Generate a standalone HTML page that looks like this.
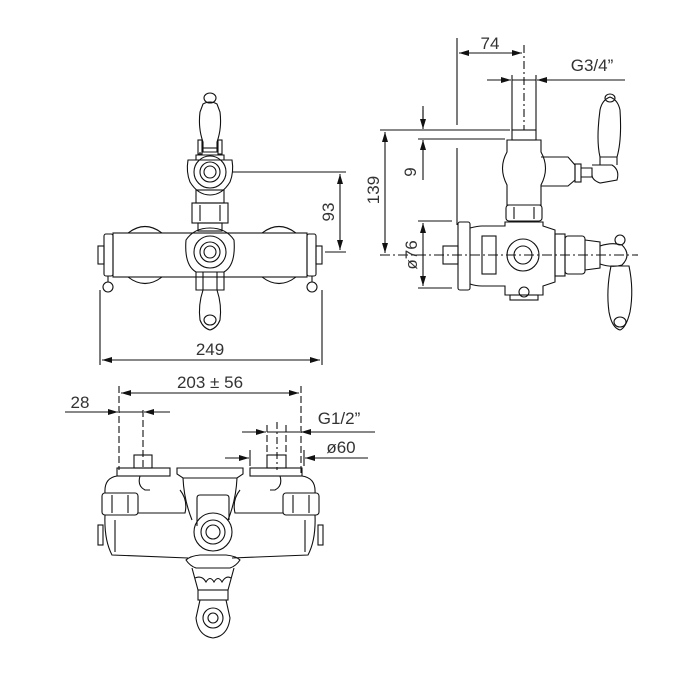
<!DOCTYPE html>
<html><head><meta charset="utf-8"><style>
html,body{margin:0;padding:0;background:#fff;width:700px;height:700px;overflow:hidden}
svg text{font-family:"Liberation Sans","DejaVu Sans",sans-serif;font-size:17px;fill:#333}
</style></head><body>
<svg width="700" height="700" viewBox="0 0 700 700" xmlns="http://www.w3.org/2000/svg">
<defs>
<marker id="a" viewBox="0 0 10 6" refX="10" refY="3" markerWidth="10" markerHeight="6" orient="auto-start-reverse" markerUnits="userSpaceOnUse"><path d="M0,0L10,3L0,6z" fill="#111"/></marker>
</defs>
<g fill="none" stroke="#111" stroke-width="1.1">
<ellipse cx="210" cy="98" rx="6" ry="5"/>
<path d="M203,104 Q210,100 217,104 L220,112 Q222,128 217,142 L217,152 L203,152 L203,142 Q198,128 200,112 Z"/>
<line x1="203" y1="148" x2="217" y2="148"/>
<rect x="198" y="140" width="4" height="14"/><rect x="218" y="140" width="4" height="14"/>
<path d="M196,160 L196,155 L224,155 L224,160"/>
<path d="M200,155 L200,152 M188,160 Q186,172 190,182 Q198,195 210,195 Q222,195 230,182 Q234,172 232,160 Z"/>
<circle cx="210" cy="172" r="16"/><circle cx="210" cy="172" r="10"/><circle cx="210" cy="172" r="6"/>
<rect x="196" y="190" width="28" height="13"/>
<rect x="192" y="203" width="36" height="20"/>
<line x1="200" y1="205" x2="200" y2="221"/><line x1="220" y1="205" x2="220" y2="221"/>
<rect x="198" y="223" width="24" height="8"/>
<path d="M128,233 Q145,220 162,233 M128,277 Q145,290 162,277 M262,233 Q279,220 296,233 M262,277 Q279,290 296,277"/>
<rect x="113" y="233" width="194" height="44"/>
<rect x="104" y="234" width="9" height="42" rx="2"/><rect x="307" y="234" width="9" height="42" rx="2"/>
<rect x="98" y="246" width="6" height="18"/><rect x="316" y="246" width="6" height="18"/>
<path d="M108,276 L108,282 M312,276 L312,282"/>
<circle cx="108" cy="287" r="5"/><circle cx="312" cy="287" r="5"/>
<path d="M186,240 Q184,265 196,272 L224,272 Q236,265 234,240 Q226,228 210,228 Q194,228 186,240 Z"/>
<circle cx="210" cy="252" r="16"/><circle cx="210" cy="252" r="10"/><circle cx="210" cy="252" r="6"/>
<path d="M196,272 L196,290 L224,290 L224,272"/>
<path d="M203,272 L217,272 L217,290 Q222,305 220,320 Q217,328 210,330 Q203,328 200,320 Q198,305 203,290 Z"/>
<ellipse cx="210" cy="320" rx="6" ry="5"/>
<path d="M232,172 L346,172 M325,252 L346,252"/>
<line x1="340" y1="174" x2="340" y2="250" marker-start="url(#a)" marker-end="url(#a)"/>
<path d="M100,290 L100,365 M322,290 L322,365"/>
<line x1="102" y1="360" x2="320" y2="360" marker-start="url(#a)" marker-end="url(#a)"/>

<path d="M457,38 L457,125 M457,148 L457,225"/>
<line x1="459" y1="53" x2="522" y2="53" marker-start="url(#a)" marker-end="url(#a)"/>
<path d="M524,45 L524,130" stroke-dasharray="8,3,2,3"/>
<path d="M512,75 L512,130 M536,75 L536,130"/>
<line x1="487" y1="80" x2="511" y2="80" marker-end="url(#a)"/>
<line x1="625" y1="80" x2="537" y2="80" marker-end="url(#a)"/>
<line x1="512" y1="80" x2="536" y2="80"/>
<path d="M423,106 L423,120"/>
<line x1="423" y1="110" x2="423" y2="129" marker-end="url(#a)"/>
<line x1="423" y1="180" x2="423" y2="140" marker-end="url(#a)"/>
<path d="M380,130 L510,130 M418,139 L505,139"/>
<line x1="385" y1="132" x2="385" y2="253" marker-start="url(#a)" marker-end="url(#a)"/>
<path d="M380,255 L638,255" stroke-dasharray="10,3,2,3"/>
<path d="M418,221 L452,221 M418,288 L452,288"/>
<line x1="423" y1="223" x2="423" y2="286" marker-start="url(#a)" marker-end="url(#a)"/>
<rect x="512" y="130" width="24" height="10"/>
<path d="M507,140 L541,140 L541,152 Q550,168 541,185 L541,205 L507,205 L507,185 Q498,168 507,152 Z"/>
<path d="M541,157 L568,157 L575,165 L575,180 L568,186 L541,186"/>
<rect x="575" y="164" width="6" height="18"/><path d="M581,168 L592,168 L592,177 L581,177"/>
<path d="M592,165 L612,165 Q620,170 617,180 L600,183 Q592,180 592,175"/>
<path d="M600,165 L600,157 Q596,140 600,110 Q602,100 610,97 Q618,100 620,110 Q622,140 617,157 L617,165"/>
<ellipse cx="610" cy="98" rx="5" ry="4"/>
<line x1="600" y1="157" x2="617" y2="157"/>
<rect x="506" y="205" width="36" height="16" rx="3"/>
<line x1="514" y1="207" x2="514" y2="219"/><line x1="534" y1="207" x2="534" y2="219"/>
<rect x="458" y="222" width="12" height="68" rx="2"/>
<rect x="443" y="246" width="15" height="18"/>
<path d="M470,228 Q478,226 482,226 L505,226 L505,222 L543,222 L543,226 L555,230 L555,282 L543,286 L543,295 L505,295 L505,286 L482,286 Q476,286 470,284"/>
<rect x="482" y="236" width="14" height="38"/>
<circle cx="523" cy="255" r="16"/><circle cx="523" cy="255" r="9"/>
<circle cx="524" cy="292" r="5"/>
<rect x="510" y="295" width="28" height="5"/>
<rect x="555" y="234" width="10" height="42"/>
<rect x="565" y="236" width="20" height="38" rx="3"/>
<path d="M585,240 L600,242 L600,268 L585,270"/>
<circle cx="620" cy="240" r="5"/>
<path d="M600,246 Q612,242 622,245 Q632,255 622,265 Q612,268 600,264"/>
<path d="M611,266 L629,266 Q634,290 630,312 Q626,328 620,330 Q612,328 609,312 Q606,290 611,266 Z"/>
<ellipse cx="620" cy="322" rx="6" ry="5"/>

<path d="M119,386 L119,470 M301,386 L301,476" stroke-dasharray="7,3"/>
<line x1="121" y1="393" x2="299" y2="393" marker-start="url(#a)" marker-end="url(#a)"/>
<line x1="65" y1="412" x2="118" y2="412" marker-end="url(#a)"/>
<line x1="170" y1="412" x2="144" y2="412" marker-end="url(#a)"/>
<line x1="119" y1="412" x2="143" y2="412"/>
<path d="M143,410 L143,470" stroke-dasharray="7,3"/>
<line x1="242" y1="432" x2="266" y2="432" marker-end="url(#a)"/>
<line x1="375" y1="432" x2="301" y2="432" marker-end="url(#a)"/>
<line x1="267" y1="432" x2="300" y2="432"/>
<path d="M267,425 L267,456 M286,425 L286,456" stroke-dasharray="7,3"/>
<path d="M277,422 L277,470" stroke-dasharray="7,3,2,3"/>
<line x1="225" y1="458" x2="249" y2="458" marker-end="url(#a)"/>
<line x1="368" y1="458" x2="305" y2="458" marker-end="url(#a)"/>
<path d="M250,450 L250,466 M304,450 L304,466"/>
<rect x="134" y="455" width="18" height="13"/><rect x="267" y="455" width="19" height="13"/>
<rect x="117" y="468" width="53" height="8"/><rect x="250" y="468" width="52" height="8"/>
<path d="M177,468 L243,468 L243,474 L237,478 L183,478 L177,474 Z"/>
<path d="M117,476 Q104,478 105,493 M302,476 Q316,478 315,493"/>
<path d="M140,476 Q137,486 145,490 L150,490 M280,476 Q283,486 275,490 L270,490"/>
<rect x="102" y="493" width="36" height="22" rx="3"/><rect x="283" y="493" width="36" height="22" rx="3"/>
<line x1="112" y1="495" x2="112" y2="513"/><line x1="128" y1="495" x2="128" y2="513"/>
<line x1="293" y1="495" x2="293" y2="513"/><line x1="309" y1="495" x2="309" y2="513"/>
<path d="M138,513 L185,513 Q188,500 180,490 M283,513 L235,513 Q232,500 240,490"/>
<path d="M183,478 Q184,500 192,520 M237,478 Q236,500 228,520"/>
<path d="M105,515 Q104,540 112,555 L188,558 M315,515 Q316,540 308,555 L232,558"/>
<path d="M115,520 L115,552 M305,520 L305,552"/>
<rect x="98" y="525" width="5" height="20"/><rect x="318" y="525" width="5" height="20"/>
<path d="M197,526 L197,498 Q197,495 200,495 L226,495 Q229,495 229,498 L229,520"/>
<circle cx="213" cy="532" r="19"/><circle cx="213" cy="532" r="12"/><circle cx="213" cy="532" r="7"/>
<path d="M186,560 Q190,556 200,555 L226,555 Q236,556 240,560 Q236,566 230,568 L196,568 Q190,566 186,560 Z"/>
<path d="M192,568 L198,590 L228,590 L234,568"/>
<path d="M195,578 Q202,575 206,582 Q210,575 214,582 Q218,575 222,582 Q226,575 231,578"/>
<rect x="198" y="590" width="30" height="10"/>
<path d="M200,600 L196,618 Q198,636 213,638 Q228,636 230,618 L226,600"/>
<circle cx="213" cy="618" r="10"/><circle cx="213" cy="618" r="5"/>
</g>
<text x="210" y="355" text-anchor="middle">249</text>
<text transform="translate(334,212) rotate(-90)" text-anchor="middle">93</text>
<text x="490" y="49" text-anchor="middle">74</text>
<text x="592" y="71" text-anchor="middle">G3/4”</text>
<text transform="translate(416,172) rotate(-90)" text-anchor="middle">9</text>
<text transform="translate(379,190) rotate(-90)" text-anchor="middle">139</text>
<text transform="translate(417,255) rotate(-90)" text-anchor="middle">ø76</text>
<text x="210" y="388" text-anchor="middle">203 ± 56</text>
<text x="80" y="408" text-anchor="middle">28</text>
<text x="339" y="424" text-anchor="middle">G1/2”</text>
<text x="341" y="453" text-anchor="middle">ø60</text>
</svg>
</body></html>
